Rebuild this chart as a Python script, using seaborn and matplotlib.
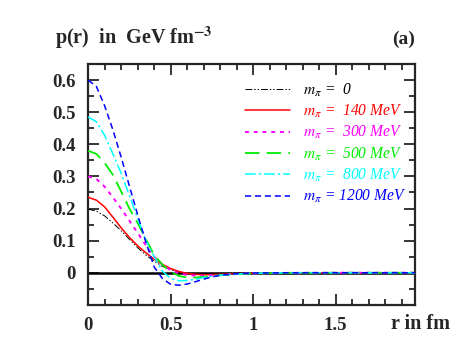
import numpy as np
import pandas as pd
import matplotlib
matplotlib.use("Agg")
import matplotlib.pyplot as plt
from matplotlib.ticker import MultipleLocator
import seaborn as sns

sns.set_style("ticks")
plt.rcParams['font.family'] = ['Liberation Serif', 'DejaVu Serif']
plt.rcParams['mathtext.fontset'] = 'stix'

# radius grid (fm) and pressure (GeV fm^-3)
r = [0, 0.05, 0.1, 0.15, 0.2, 0.25, 0.3, 0.35, 0.4, 0.45, 0.5, 0.55, 0.6,
     0.65, 0.7, 0.75, 0.8, 0.9, 1.0, 1.2, 1.5, 2.0]
p_0 = [0.198, 0.192, 0.177, 0.155, 0.131, 0.104, 0.078, 0.055, 0.036, 0.020,
       0.009, 0.002, -0.002, -0.003, -0.003, -0.003, -0.002, -0.001, -0.0005, 0, 0, 0]
p_140 = [0.235, 0.226, 0.205, 0.173, 0.140, 0.110, 0.084, 0.062, 0.042, 0.026,
         0.013, 0.004, -0.002, -0.005, -0.006, -0.006, -0.005, -0.003, -0.0015, -0.0003, 0, 0]
p_300 = [0.300, 0.292, 0.268, 0.235, 0.200, 0.162, 0.124, 0.085, 0.050, 0.025,
         0.008, -0.002, -0.007, -0.009, -0.009, -0.008, -0.007, -0.004, -0.002, -0.0005, 0, 0]
p_500 = [0.380, 0.370, 0.342, 0.305, 0.253, 0.200, 0.155, 0.105, 0.055, 0.025,
         0.003, -0.010, -0.015, -0.015, -0.013, -0.010, -0.008, -0.004, -0.002, -0.0005, 0, 0]
p_800 = [0.485, 0.470, 0.428, 0.370, 0.310, 0.240, 0.170, 0.100, 0.050, 0.005,
         -0.018, -0.025, -0.024, -0.020, -0.015, -0.011, -0.008, -0.004, -0.002, 0, 0, 0]
p_1200 = [0.600, 0.580, 0.520, 0.445, 0.360, 0.270, 0.180, 0.095, 0.018, -0.018,
          -0.036, -0.039, -0.035, -0.028, -0.020, -0.013, -0.008, -0.003, -0.001, 0, 0, 0]

labels = ['=  0', '=  140 MeV', '=  300 MeV', '=  500 MeV', '=  800 MeV', '= 1200 MeV']
series = [p_0, p_140, p_300, p_500, p_800, p_1200]
colors = ['black', 'red', 'magenta', '#00ee00', 'cyan', 'blue']
styles = [(0, (7, 2, 1.5, 2, 1.5, 2)), '-', (0, (2, 2.5)), (0, (8, 4)),
          (0, (7, 2, 1.5, 2)), (0, (4, 2.5))]
widths = [0.7, 1.1, 1.4, 1.3, 1.1, 1.1]

df = pd.DataFrame({'r': r})
for lab, vals in zip(labels, series):
    df[lab] = vals

fig = plt.figure(figsize=(4.52, 3.48), dpi=100)
ax = fig.add_axes([0.195, 0.124, 0.723, 0.692])

ax.axhline(0, color='black', lw=1.8, zorder=1)
for lab, c, ls, lw in zip(labels, colors, styles, widths):
    sns.lineplot(data=df, x='r', y=lab, ax=ax, color=c, linestyle=ls, lw=lw,
                 label=r'$m_{\pi}$ ' + lab, zorder=3)

ax.set_xlim(0, 1.98)
ax.set_ylim(-0.1, 0.65)
ax.xaxis.set_major_locator(MultipleLocator(0.5))
ax.xaxis.set_minor_locator(MultipleLocator(0.1))
ax.yaxis.set_major_locator(MultipleLocator(0.1))
ax.yaxis.set_minor_locator(MultipleLocator(0.05))
ax.set_xticks([0, 0.5, 1, 1.5])
ax.set_xticklabels(['0', '0.5', '1', '1.5'])
ax.set_yticks([0, 0.1, 0.2, 0.3, 0.4, 0.5, 0.6])
ax.set_yticklabels(['0', '0.1', '0.2', '0.3', '0.4', '0.5', '0.6'])
ax.tick_params(which='both', direction='in', top=True, right=True, width=1.3,
               labelsize=13.5, pad=9)
ax.tick_params(which='major', length=8)
ax.tick_params(which='minor', length=4)
for t in ax.get_xticklabels() + ax.get_yticklabels():
    t.set_fontweight('bold')
for s in ax.spines.values():
    s.set_linewidth(1.6)
ax.set_xlabel('')
ax.set_ylabel('')

leg = ax.legend(loc='upper left', bbox_to_anchor=(0.48, 0.927), frameon=False,
                borderpad=0, borderaxespad=0,
                handlelength=2.9, handletextpad=0.8, labelspacing=0.27,
                prop={'style': 'italic', 'size': 11.2}, labelcolor='linecolor')

fig.text(0.122, 0.875, r'p(r)  in  GeV fm$^{\mathbf{-3}}$', fontsize=14.5,
         fontweight='bold')
fig.text(0.918, 0.875, '(a)', fontsize=14, fontweight='bold', ha='right')
fig.text(0.995, 0.056, 'r in fm', fontsize=14.5, fontweight='bold', ha='right')

fig.savefig('out.png', dpi=100)
